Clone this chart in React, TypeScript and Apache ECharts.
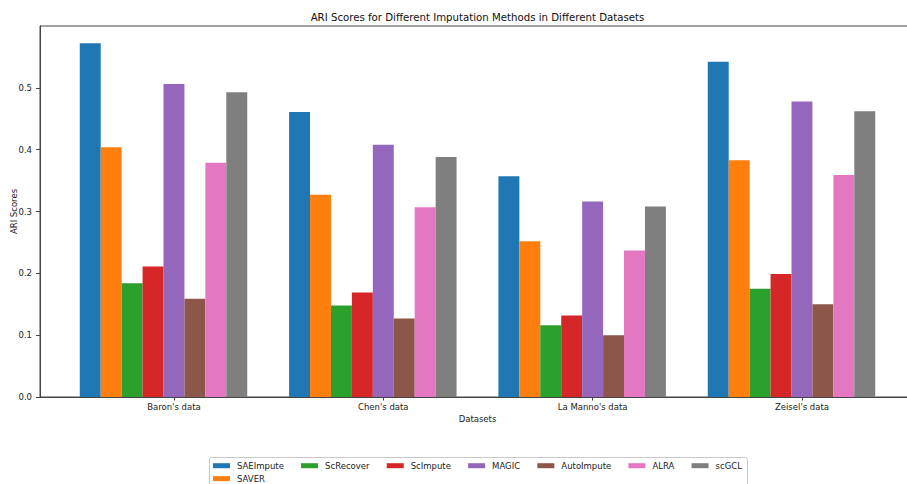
import { useEffect, useRef } from 'react';
import * as echarts from 'echarts';

// Datasets along the x axis
const categories = ["Baron's data", "Chen's data", "La Manno's data", "Zeisel's data"];

// Imputation methods (one bar per method in each dataset group)
const methods = ['SAEImpute', 'SAVER', 'ScRecover', 'ScImpute', 'MAGIC', 'AutoImpute', 'ALRA', 'scGCL'];
const colors = ['#1f77b4', '#ff7f0e', '#2ca02c', '#d62728', '#9467bd', '#8c564b', '#e377c2', '#7f7f7f'];

// ARI scores per method, in dataset order
const saeImpute = [0.572, 0.461, 0.357, 0.542];
const saver = [0.404, 0.327, 0.252, 0.383];
const scRecover = [0.184, 0.148, 0.116, 0.175];
const scImpute = [0.211, 0.169, 0.132, 0.199];
const magic = [0.506, 0.408, 0.316, 0.478];
const autoImpute = [0.159, 0.127, 0.1, 0.15];
const alra = [0.379, 0.307, 0.237, 0.359];
const scGCL = [0.493, 0.388, 0.308, 0.462];
const scores = [saeImpute, saver, scRecover, scImpute, magic, autoImpute, alra, scGCL];

// Y tick values
const yTicks = [0, 0.1, 0.2, 0.3, 0.4, 0.5];

// legend rows: first row holds every column head, SAVER sits under SAEImpute
const legendRow1 = ['SAEImpute', 'ScRecover', 'ScImpute', 'MAGIC', 'AutoImpute', 'ALRA', 'scGCL'];
const legendRow2 = ['SAVER'];

const BAR_W = 0.1;
const FONT = 'DejaVu Sans';

export default function App() {
  const ref = useRef<HTMLDivElement>(null);

  useEffect(() => {
    document.body.style.margin = '0';
    const chart = echarts.init(ref.current!, null, { renderer: 'svg' });

    const series = methods.map((name, i) => ({
      type: 'custom',
      name,
      itemStyle: { color: colors[i] },
      encode: { x: 0, y: 1 },
      data: scores[i].map((v, k) => [k, v]),
      renderItem: (_params: any, api: any) => {
        const k = api.value(0);
        const v = api.value(1);
        const x0 = k + (i - 4.5) * BAR_W;
        const p0 = api.coord([x0, v]);
        const p1 = api.coord([x0 + BAR_W, 0]);
        return {
          type: 'rect',
          shape: { x: p0[0], y: p0[1], width: p1[0] - p0[0], height: p1[1] - p0[1] },
          style: { fill: colors[i] },
        };
      },
    }));

    const legendBase = {
      orient: 'horizontal',
      left: 213,
      padding: 0,
      itemWidth: 17,
      itemHeight: 5,
      itemGap: 17.2,
      icon: 'rect',
      selectedMode: false,
      z: 10,
      textStyle: { fontFamily: FONT, fontSize: 8.5, color: '#222', lineHeight: 10, padding: [0, 0, 0, 2] },
    };

    chart.setOption({
      animation: false,
      backgroundColor: '#fff',
      textStyle: { fontFamily: FONT },
      grid: {
        left: 40,
        width: 875,
        top: 26,
        bottom: 87,
        outerBoundsMode: 'none',
        containLabel: false,
        show: true,
        borderColor: '#444',
        borderWidth: 1,
        backgroundColor: 'transparent',
      },
      xAxis: {
        type: 'value',
        min: -0.64,
        max: 3.54,
        name: 'Datasets',
        nameLocation: 'middle',
        nameGap: 17,
        nameMoveOverlap: false,
        nameTextStyle: { fontFamily: FONT, fontSize: 8.5, color: '#222' },
        axisLine: { show: true, onZero: false, lineStyle: { color: '#444', width: 1 } },
        axisTick: { show: true, length: 3.5, customValues: [0, 1, 2, 3], lineStyle: { color: '#444' } },
        axisLabel: {
          customValues: [0, 1, 2, 3],
          formatter: (v: number) => categories[Math.round(v)],
          fontFamily: FONT,
          fontSize: 8.5,
          color: '#222',
          margin: 5,
        },
        splitLine: { show: false },
      },
      yAxis: {
        type: 'value',
        min: 0,
        max: 0.6,
        name: 'ARI Scores',
        nameLocation: 'middle',
        nameGap: 22,
        nameMoveOverlap: false,
        nameTextStyle: { fontFamily: FONT, fontSize: 8.5, color: '#222' },
        axisLine: { show: true, onZero: false, lineStyle: { color: '#444', width: 1 } },
        axisTick: { show: true, length: 4, customValues: yTicks, lineStyle: { color: '#444' } },
        axisLabel: {
          customValues: yTicks,
          formatter: (v: number) => v.toFixed(1),
          fontFamily: FONT,
          fontSize: 8.5,
          color: '#222',
          margin: 8,
        },
        splitLine: { show: false },
      },
      legend: [
        { ...legendBase, top: 460.7, data: legendRow1 },
        { ...legendBase, top: 473.6, data: legendRow2 },
      ],
      graphic: [
        {
          type: 'text',
          x: 477.5,
          y: 17,
          style: {
            text: 'ARI Scores for Different Imputation Methods in Different Datasets',
            fontFamily: FONT,
            fontSize: 10.2,
            fill: '#111',
            align: 'center',
            verticalAlign: 'middle',
          },
        },
        {
          type: 'rect',
          z: 1,
          shape: { x: 209.5, y: 457.5, width: 538, height: 40, r: 2 },
          style: { fill: '#fff', stroke: '#c8c8c8', lineWidth: 1 },
        },
      ],
      series,
    });

    return () => chart.dispose();
  }, []);

  return <div ref={ref} style={{ width: 907, height: 484 }} />;
}
